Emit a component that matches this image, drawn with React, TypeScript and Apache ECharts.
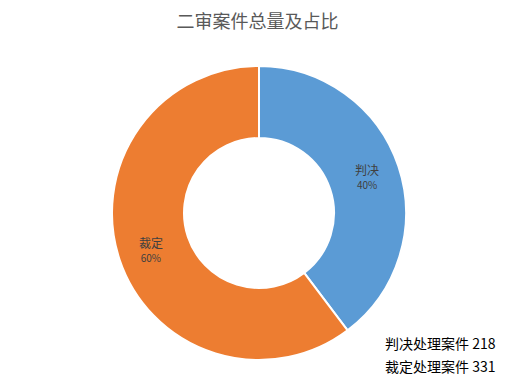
import React, { useEffect, useRef } from "react";
import * as echarts from "echarts";

const categories = ["判决", "裁定"];
const values = [218, 331];
const colors = ["#5B9BD5", "#ED7D31"];
const summaryLabels = ["判决处理案件", "裁定处理案件"];
const titleText = "二审案件总量及占比";

export default function App() {
  const ref = useRef<HTMLDivElement>(null);
  useEffect(() => {
    document.body.style.margin = "0";
    const chart = echarts.init(ref.current!, undefined, { renderer: "svg" });
    const total = values.reduce((a, b) => a + b, 0);
    chart.setOption({
      animation: false,
      title: {
        text: titleText,
        left: "center",
        top: 6,
        textStyle: {
          fontFamily: "Noto Sans CJK SC",
          fontSize: 18,
          fontWeight: "normal",
          color: "#595959",
        },
      },
      series: [
        {
          type: "pie",
          center: [259, 213],
          radius: [75, 147],
          startAngle: 90,
          clockwise: true,
          data: categories.map((c, i) => ({
            name: c,
            value: values[i],
            itemStyle: { color: colors[i] },
          })),
          itemStyle: { borderColor: "#fff", borderWidth: 2 },
          label: {
            show: true,
            position: "inside",
            formatter: (p: any) =>
              `{n|${p.name}}\n{p|${Math.round((p.value / total) * 100)}%}`,
            rich: {
              n: {
                fontFamily: "Noto Sans CJK SC",
                fontSize: 12,
                color: "#404040",
                lineHeight: 16,
              },
              p: {
                fontFamily: "Noto Sans CJK SC",
                fontSize: 10,
                color: "#404040",
                lineHeight: 14,
              },
            },
          },
          labelLine: { show: false },
          emphasis: { disabled: true },
        },
      ],
      graphic: summaryLabels.map((s, i) => ({
        type: "text",
        left: 385,
        top: 336 + i * 23,
        style: {
          text: `${s} ${values[i]}`,
          fontFamily: "Noto Sans CJK SC",
          fontSize: 14,
          fill: "#000",
        },
      })),
    });
    return () => chart.dispose();
  }, []);
  return <div ref={ref} style={{ width: 515, height: 392 }} />;
}
